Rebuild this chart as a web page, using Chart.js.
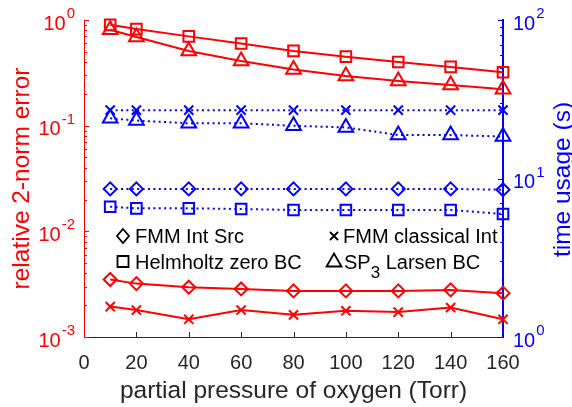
<!DOCTYPE html>
<html>
<head>
<meta charset="utf-8">
<script src="https://cdn.jsdelivr.net/npm/chart.js@4.4.1/dist/chart.umd.min.js"></script>
<style>
  html, body { margin: 0; padding: 0; background: #fff; }
  #box { width: 572px; height: 407px; }
</style>
</head>
<body>
<div id="box"><canvas id="chart" width="572" height="407"></canvas></div>
<script>
// ---- data ----
const pressure = [10, 20, 40, 60, 80, 100, 120, 140, 160];

// relative 2-norm error (left axis, red)
const errHelmholtz = [0.90, 0.82, 0.70, 0.60, 0.51, 0.45, 0.40, 0.36, 0.32];
const errLarsen    = [0.81, 0.69, 0.51, 0.41, 0.34, 0.295, 0.265, 0.243, 0.221];
const errIntSrc    = [0.0035, 0.0032, 0.00296, 0.00285, 0.00273, 0.00273, 0.00273, 0.00279, 0.0026];
const errClassical = [0.00194, 0.0018, 0.00147, 0.0018, 0.00162, 0.00177, 0.00172, 0.0019, 0.00147];

// time usage in seconds (right axis, blue)
const timeClassical = [27, 27, 27, 27, 27, 27, 27, 27, 27];
const timeLarsen    = [24.0, 23.2, 22.3, 22.3, 21.5, 21.0, 18.8, 18.8, 18.4];
const timeIntSrc    = [8.6, 8.6, 8.6, 8.6, 8.6, 8.6, 8.6, 8.6, 8.5];
const timeHelmholtz = [6.64, 6.48, 6.48, 6.42, 6.33, 6.33, 6.33, 6.33, 5.97];

// ticks
const xTickValues = [0, 20, 40, 60, 80, 100, 120, 140, 160];
const leftExps = [-3, -2, -1, 0];
const rightExps = [0, 1, 2];

// legend (one entry per marker shape)
const legendLabels = ['FMM Int Src', 'FMM classical Int', 'Helmholtz zero BC', 'SP|3| Larsen BC'];
const legendShapes = ['diamond', 'cross', 'square', 'triangle'];

const RED = '#ff0000';
const BLUE = '#0000ff';
const GREY = '#262626';
const FONT = "'Liberation Sans', Arial, Helvetica, sans-serif";

const markerOf = {
  diamond:  { pointStyle: 'rectRot', pointRadius: 6.5 },
  cross:    { pointStyle: 'crossRot', pointRadius: 6.5 },
  square:   { pointStyle: 'rect', pointRadius: 7.5 },
  triangle: { pointStyle: 'triangle', pointRadius: 8.5 }
};

function serie(values, shape, color, axis, dotted) {
  return Object.assign({
    data: values.map((v, i) => ({ x: pressure[i], y: v })),
    yAxisID: axis,
    borderColor: color,
    borderWidth: 2,
    borderDash: dotted ? [2, 3.4] : [],
    pointBorderColor: color,
    pointBackgroundColor: 'rgba(0,0,0,0)',
    pointBorderWidth: 2,
    fill: false,
    tension: 0,
    clip: false
  }, markerOf[shape]);
}

// ---- small drawing helpers ----
function garis(ctx, x1, y1, x2, y2) {
  ctx.beginPath();
  ctx.moveTo(x1, y1);
  ctx.lineTo(x2, y2);
  ctx.stroke();
}

function logTicks(ctx, scale, xAxis, dir, exps) {
  const lo = exps[0], hi = exps[exps.length - 1];
  for (let e = lo; e <= hi; e++) {
    for (let m = 1; m <= 9; m++) {
      const v = m * Math.pow(10, e);
      if (e === hi && m > 1) break;
      const y = Math.round(scale.getPixelForValue(v)) + 0.5;
      garis(ctx, xAxis, y, xAxis + dir * (m === 1 ? 5 : 3), y);
    }
  }
}

function powLabel(ctx, exp, xEdge, y, alignRight, color) {
  const sup = String(exp);
  ctx.fillStyle = color;
  ctx.textBaseline = 'middle';
  ctx.textAlign = 'left';
  ctx.font = '20px ' + FONT;
  const wb = ctx.measureText('10').width;
  ctx.font = '15px ' + FONT;
  const ws = ctx.measureText(sup).width;
  const x0 = alignRight ? xEdge - wb - ws - 1 : xEdge;
  ctx.font = '20px ' + FONT;
  ctx.fillText('10', x0, y + 4);
  ctx.font = '15px ' + FONT;
  ctx.fillText(sup, x0 + wb + 1, y - 6);
}

function legendMarker(ctx, shape, x, y) {
  ctx.beginPath();
  if (shape === 'diamond') {
    ctx.moveTo(x, y - 7); ctx.lineTo(x + 6, y); ctx.lineTo(x, y + 7); ctx.lineTo(x - 6, y); ctx.closePath();
  } else if (shape === 'square') {
    ctx.rect(x - 5.5, y - 5.5, 11, 11);
  } else if (shape === 'cross') {
    ctx.moveTo(x - 4, y - 4); ctx.lineTo(x + 4, y + 4);
    ctx.moveTo(x + 4, y - 4); ctx.lineTo(x - 4, y + 4);
  } else {
    ctx.moveTo(x, y - 8); ctx.lineTo(x + 7.5, y + 5); ctx.lineTo(x - 7.5, y + 5); ctx.closePath();
  }
  ctx.stroke();
}

const decorPlugin = {
  id: 'decor',
  beforeDatasetsDraw(chart) {
    const { ctx, chartArea: a, scales } = chart;
    ctx.save();
    ctx.lineWidth = 1;
    // x ticks pointing inward
    ctx.strokeStyle = GREY;
    xTickValues.slice(1, -1).forEach(v => {
      const px = Math.round(scales.x.getPixelForValue(v)) + 0.5;
      garis(ctx, px, a.bottom, px, a.bottom - 5);
    });
    ctx.strokeStyle = RED;
    logTicks(ctx, scales.yL, a.left, 1, leftExps);
    ctx.strokeStyle = BLUE;
    logTicks(ctx, scales.yR, a.right, -1, rightExps);
    ctx.restore();
  },
  afterDraw(chart) {
    const { ctx, chartArea: a, scales } = chart;
    ctx.save();
    leftExps.forEach(e => powLabel(ctx, e, a.left - 9, scales.yL.getPixelForValue(Math.pow(10, e)), true, RED));
    rightExps.forEach(e => powLabel(ctx, e, a.right + 10, scales.yR.getPixelForValue(Math.pow(10, e)), false, BLUE));

    // right axis title, read bottom-to-top like the left one
    ctx.save();
    ctx.translate(563, (a.top + a.bottom) / 2 + 1);
    ctx.rotate(-Math.PI / 2);
    ctx.font = '24.5px ' + FONT;
    ctx.fillStyle = BLUE;
    ctx.textAlign = 'center';
    ctx.textBaseline = 'middle';
    ctx.fillText('time usage (s)', 0, 0);
    ctx.restore();

    // legend, 2 columns inside the plot
    const cols = [a.left + 39, a.left + 250];
    const rows = [a.bottom - 94, a.bottom - 68.5];
    ctx.strokeStyle = '#000';
    ctx.fillStyle = '#000';
    ctx.lineWidth = 1.8;
    ctx.textAlign = 'left';
    ctx.textBaseline = 'alphabetic';
    legendLabels.forEach((lbl, i) => {
      const mx = cols[i % 2];
      const base = rows[Math.floor(i / 2)];
      legendMarker(ctx, legendShapes[i], mx, base - 7);
      let tx = mx + (legendShapes[i] === 'triangle' ? 10 : legendShapes[i] === 'cross' ? 9 : 12);
      lbl.split('|').forEach((part, k) => {
        ctx.font = (k === 1 ? '17px ' : '20px ') + FONT;
        ctx.fillText(part, tx, base + (k === 1 ? 9 : 0));
        tx += ctx.measureText(part).width;
      });
    });
    ctx.restore();
  }
};

new Chart(document.getElementById('chart'), {
  type: 'line',
  data: {
    datasets: [
      serie(timeClassical, 'cross', BLUE, 'yR', true),
      serie(timeLarsen, 'triangle', BLUE, 'yR', true),
      serie(timeIntSrc, 'diamond', BLUE, 'yR', true),
      serie(timeHelmholtz, 'square', BLUE, 'yR', true),
      serie(errHelmholtz, 'square', RED, 'yL', false),
      serie(errLarsen, 'triangle', RED, 'yL', false),
      serie(errIntSrc, 'diamond', RED, 'yL', false),
      serie(errClassical, 'cross', RED, 'yL', false)
    ]
  },
  options: {
    responsive: false,
    animation: false,
    devicePixelRatio: 1,
    layout: { padding: { top: 20, left: 0, right: 0, bottom: 0 } },
    plugins: { legend: { display: false }, tooltip: { enabled: false } },
    scales: {
      x: {
        type: 'linear',
        min: 0,
        max: 160,
        afterBuildTicks: s => { s.ticks = xTickValues.map(v => ({ value: v })); },
        afterFit: s => { s.height = 70; },
        grid: { drawOnChartArea: false, drawTicks: false },
        border: { color: GREY, width: 1 },
        ticks: { color: GREY, padding: 14, maxRotation: 0, font: { family: FONT, size: 20 } },
        title: {
          display: true,
          text: 'partial pressure of oxygen (Torr)',
          color: GREY,
          font: { family: FONT, size: 24.5 },
          padding: { top: 0, bottom: 1 }
        }
      },
      yL: {
        type: 'logarithmic',
        position: 'left',
        min: 1e-3,
        max: 1,
        afterFit: s => { s.width = 84; },
        grid: { drawOnChartArea: false, drawTicks: false },
        border: { color: RED, width: 1 },
        ticks: { display: false },
        title: {
          display: true,
          text: 'relative 2-norm error',
          color: RED,
          font: { family: FONT, size: 24.5 },
          padding: { top: 8, bottom: 0 }
        }
      },
      yR: {
        type: 'logarithmic',
        position: 'right',
        min: 1,
        max: 100,
        afterFit: s => { s.width = 69; },
        grid: { drawOnChartArea: false, drawTicks: false },
        border: { color: BLUE, width: 2 },
        ticks: { display: false }
      }
    }
  },
  plugins: [decorPlugin]
});
</script>
</body>
</html>
